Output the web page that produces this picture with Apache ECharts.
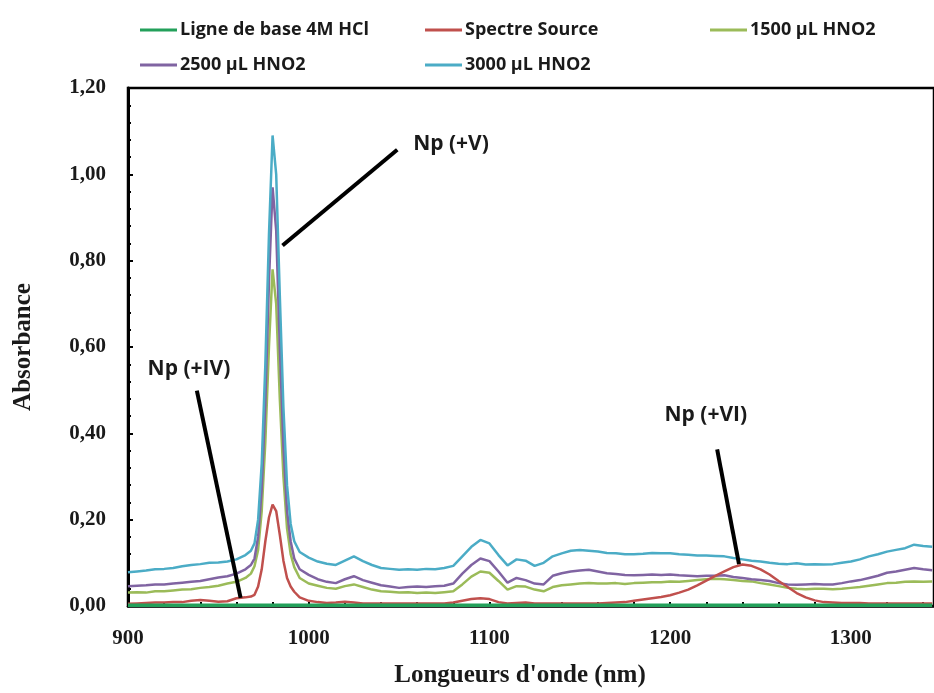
<!DOCTYPE html>
<html><head><meta charset="utf-8">
<script src="https://cdn.jsdelivr.net/npm/echarts@6/dist/echarts.min.js"></script>
<style>html,body{margin:0;padding:0;background:#fff}#c{width:934px;height:693px}</style>
</head><body><div id="c"></div>
<script>
const wavelengths = [900,905,910,915,920,925,930,935,940,945,950,955,960,965,968,970,972,974,976,978,980,982,984,986,988,990,992,995,
1000,1005,1010,1015,1020,1025,1030,1035,1040,1045,1050,1055,1060,1065,1070,1075,1080,1085,1090,1095,1100,1105,1110,1115,1120,1125,1130,1135,1140,1145,1150,1155,1160,1165,1170,1175,1180,1185,1190,1195,1200,1205,1210,1215,1220,1225,1230,1235,1240,1245,1250,1255,1260,1265,1270,1275,1280,1285,1290,1295,1300,1305,1310,1315,1320,1325,1330,1335,1340,1345];

const seriesNames = ['Ligne de base 4M HCl','Spectre Source','1500 µL HNO2','2500 µL HNO2','3000 µL HNO2'];

const baseline = wavelengths.map(() => 0.002);

const source = [0.005,0.006,0.007,0.008,0.008,0.009,0.009,0.012,0.014,0.012,0.010,0.011,0.018,0.020,0.022,0.026,0.045,0.085,0.150,0.205,0.235,0.220,0.165,0.105,0.065,0.045,0.033,0.020,
0.012,0.009,0.007,0.008,0.010,0.008,0.006,0.006,0.006,0.006,0.006,0.006,0.006,0.006,0.006,0.006,0.008,0.012,0.016,0.018,0.016,0.009,0.006,0.007,0.008,0.006,0.006,0.006,0.006,0.006,0.006,0.006,0.006,0.007,0.008,0.009,0.012,0.015,0.018,0.021,0.025,0.031,0.038,0.048,0.059,0.070,0.080,0.090,0.096,0.093,0.085,0.073,0.058,0.044,0.030,0.020,0.013,0.009,0.008,0.007,0.007,0.007,0.006,0.006,0.006,0.006,0.006,0.006,0.006,0.006];

const hno2_1500 = [0.031,0.032,0.031,0.034,0.034,0.036,0.038,0.039,0.042,0.044,0.047,0.052,0.056,0.065,0.075,0.092,0.130,0.220,0.380,0.600,0.780,0.700,0.480,0.300,0.180,0.120,0.090,0.065,
0.052,0.047,0.042,0.040,0.046,0.050,0.044,0.038,0.034,0.033,0.031,0.032,0.030,0.031,0.030,0.032,0.034,0.050,0.068,0.080,0.077,0.058,0.038,0.046,0.045,0.038,0.034,0.044,0.048,0.050,0.052,0.053,0.052,0.052,0.053,0.051,0.053,0.054,0.055,0.055,0.057,0.056,0.058,0.060,0.062,0.063,0.062,0.060,0.058,0.057,0.053,0.050,0.046,0.042,0.040,0.039,0.040,0.040,0.039,0.040,0.042,0.044,0.047,0.050,0.053,0.054,0.056,0.057,0.056,0.057];

const hno2_2500 = [0.046,0.047,0.048,0.050,0.050,0.052,0.054,0.056,0.058,0.062,0.066,0.069,0.075,0.085,0.095,0.110,0.160,0.270,0.470,0.750,0.970,0.870,0.600,0.370,0.220,0.150,0.110,0.085,
0.072,0.062,0.056,0.053,0.062,0.069,0.060,0.054,0.048,0.045,0.042,0.044,0.045,0.044,0.046,0.047,0.052,0.075,0.095,0.110,0.104,0.080,0.054,0.065,0.060,0.052,0.050,0.070,0.076,0.080,0.082,0.084,0.080,0.076,0.074,0.072,0.071,0.072,0.073,0.072,0.073,0.071,0.070,0.069,0.070,0.070,0.071,0.067,0.065,0.062,0.060,0.058,0.053,0.050,0.049,0.050,0.051,0.050,0.050,0.053,0.057,0.060,0.065,0.070,0.077,0.080,0.084,0.088,0.085,0.083];

const hno2_3000 = [0.078,0.080,0.082,0.085,0.086,0.088,0.092,0.095,0.097,0.100,0.101,0.103,0.108,0.118,0.128,0.145,0.200,0.330,0.560,0.860,1.090,1.000,0.720,0.460,0.280,0.190,0.150,0.125,
0.112,0.103,0.098,0.095,0.105,0.115,0.104,0.095,0.088,0.086,0.084,0.085,0.084,0.086,0.085,0.088,0.093,0.115,0.137,0.153,0.145,0.118,0.094,0.108,0.105,0.093,0.100,0.115,0.122,0.128,0.130,0.128,0.126,0.123,0.122,0.120,0.120,0.121,0.123,0.122,0.122,0.120,0.119,0.117,0.117,0.116,0.115,0.111,0.108,0.105,0.103,0.100,0.098,0.097,0.099,0.096,0.097,0.096,0.097,0.100,0.103,0.108,0.115,0.120,0.126,0.130,0.134,0.142,0.139,0.137];

const yTicks = [0,0.2,0.4,0.6,0.8,1.0,1.2];
const xTicks = [900,1000,1100,1200,1300];

const annotationLabels = ['Np (+V)','Np (+IV)','Np (+VI)'];
const annotationText = [[1079,1.069],[934,0.547],[1220,0.441]];
const annotationLineFrom = [[985.5,0.835],[938.1,0.499],[1226,0.363]];
const annotationLineTo = [[1049,1.057],[962.3,0.019],[1238.1,0.097]];

const colors = ['#23a05a','#c0504d','#9bbb59','#8064a2','#4bacc6'];
const valuesBySeries = [baseline, source, hno2_1500, hno2_2500, hno2_3000];

const chart = echarts.init(document.getElementById('c'));
const pairs = v => wavelengths.map((w,i)=>[w,v[i]]);

const drawOrder = [2,3,4,1,0];
const series = drawOrder.map(k => ({
  name: seriesNames[k], type:'line', data: pairs(valuesBySeries[k]),
  showSymbol:false, symbol:'none', smooth:false,
  lineStyle:{color:colors[k], width: k===0?3.5:2.5}, itemStyle:{color:colors[k]},
  z: 2, animation:false
}));

series.push({
  type:'line', data:[], silent:true, animation:false,
  markLine:{symbol:'none', silent:true, animation:false,
    lineStyle:{color:'#000', width:4, type:'solid', opacity:1}, label:{show:false},
    emphasis:{disabled:true},
    data: annotationLineFrom.map((p,i)=>[{coord:p},{coord:annotationLineTo[i]}])}
});
series.push({
  type:'scatter', data: annotationText.map((p,i)=>({value:p, name:annotationLabels[i]})),
  symbolSize:1, itemStyle:{opacity:0}, silent:true, animation:false, z:5,
  label:{show:true, position:[0,0], align:'center', verticalAlign:'middle', formatter:p=>p.name, color:'#1a1a1a',
    textBorderWidth:0, opacity:1,
    fontFamily:'Open Sans', fontWeight:'bold', fontSize:21}
});

const legendPos = [[135,16],[420,16],[705,16],[135,51],[420,51]];
const legends = seriesNames.map((n,i)=>({
  data:[n], left:legendPos[i][0], top:legendPos[i][1], orient:'horizontal',
  icon:'rect', itemWidth:37, itemHeight:3, itemGap:0,
  textStyle:{fontFamily:'Open Sans', fontWeight:'bold', fontSize:18, color:'#1a1a1a', padding:[0,0,0,-2]},
  selectedMode:false
}));

chart.setOption({
  animation:false,
  backgroundColor:'#fff',
  color: colors,
  legend: legends,
  grid:{left:128, top:88, bottom:83, right:-1, show:true, borderColor:'#000', borderWidth:2.5, backgroundColor:'transparent'},
  xAxis:{type:'value', min:900, max:1346, interval:100,
    name:"Longueurs d'onde (nm)", nameLocation:'middle', nameGap:57,
    nameTextStyle:{fontFamily:'Liberation Serif', fontWeight:'bold', fontSize:25, color:'#1a1a1a', padding:[0,22,0,0]},
    axisLine:{show:true, lineStyle:{color:'#000', width:2.5}},
    axisTick:{show:true, inside:true, length:4, lineStyle:{color:'#000', width:2}},
    minorTick:{show:true, splitNumber:5, length:4, lineStyle:{color:'#000', width:2}},
    axisLabel:{margin:22, fontFamily:'Liberation Serif', fontWeight:'bold', fontSize:21, color:'#1a1a1a',
      showMaxLabel:false, formatter:v=> xTicks.includes(v)? String(v):''},
    splitLine:{show:false}},
  yAxis:{type:'value', min:0, max:1.2, interval:0.2,
    name:'Absorbance', nameLocation:'middle', nameGap:92,
    nameTextStyle:{fontFamily:'Liberation Serif', fontWeight:'bold', fontSize:25, color:'#1a1a1a'},
    axisLine:{show:true, lineStyle:{color:'#000', width:3}},
    axisTick:{show:true, inside:true, length:5, lineStyle:{color:'#000', width:2}},
    minorTick:{show:true, splitNumber:5, length:3, lineStyle:{color:'#000', width:2}},
    axisLabel:{margin:22, fontFamily:'Liberation Serif', fontWeight:'bold', fontSize:21, color:'#1a1a1a',
      formatter:v=>{const t=yTicks.find(q=>Math.abs(q-v)<1e-9); return t===undefined?'':t.toFixed(2).replace('.',',');}},
    splitLine:{show:false}},
  series: series
});
</script></body></html>
